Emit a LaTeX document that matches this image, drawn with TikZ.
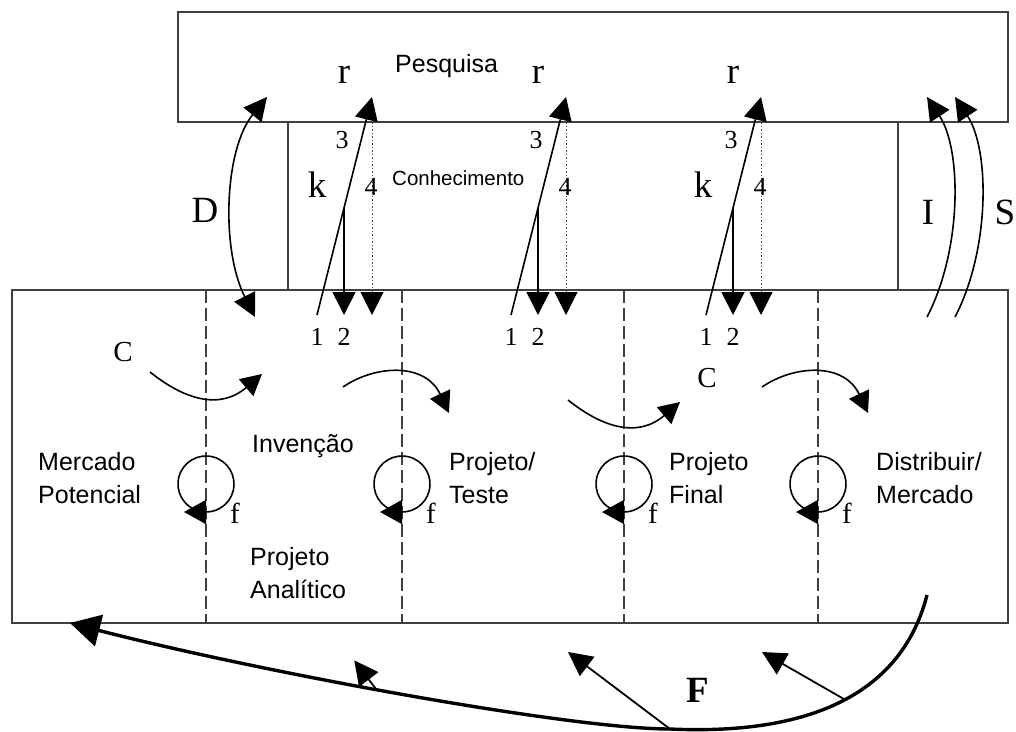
\documentclass[tikz,border=0pt]{standalone}
\usepackage{fontspec}
\setmainfont{Liberation Serif}
\setsansfont{Liberation Sans}
\usetikzlibrary{arrows.meta}
\tikzset{
  caixa/.style={draw=black!75, line width=1.5pt},
  divisa/.style={draw=black!75, line width=1.5pt, dash pattern=on 13pt off 5pt},
  fluxo/.style={-{Triangle[length=23pt,width=23pt]}, line width=1.6pt},
  fluxodup/.style={{Triangle[length=23pt,width=23pt]}-{Triangle[length=23pt,width=23pt]}, line width=1.6pt},
  laco/.style={-{Triangle[length=22pt,width=24pt]}, line width=1.6pt},
  curva/.style={-{Triangle[length=21pt,width=22pt]}, line width=1.6pt},
  retorno/.style={-{Triangle[length=30pt,width=32pt]}, line width=3.4pt},
  ramo/.style={-{Triangle[length=24pt,width=24pt]}, line width=1.8pt},
  pontos/.style={draw=black!70, line width=1pt, dash pattern=on 1.5pt off 2pt,
                 -{Triangle[length=23pt,width=23pt,color=black]}},
  rotulo/.style={font=\sffamily\fontsize{25}{33}\selectfont, align=left, anchor=base west, inner sep=0pt},
  letra/.style={font=\fontsize{37}{37}\selectfont, inner sep=0pt},
  letrap/.style={font=\fontsize{29}{29}\selectfont, inner sep=0pt},
  digito/.style={font=\fontsize{26}{26}\selectfont, inner sep=0pt},
}
\newcommand{\kgrupo}[2]{%
  \coordinate (pe#2) at (#1,315);
  \coordinate (pr#2) at (#1+55,97);
  \coordinate (pk#2) at (#1+27,208);
  \coordinate (pb#2) at (#1+27,315);
  \coordinate (pt#2) at (#1+55,122);
  \coordinate (pd#2) at (#1+55,315);
  \draw[fluxo] (pe#2) -- (pr#2);
  \draw[fluxo] (pk#2) -- (pb#2);
  \draw[pontos] (pt#2) -- (pd#2);
  \node[letra] (r#2) at (#1+27,75) {r};
  \node[digito] (tres#2) at (#1+25,140) {3};
  \node[digito] (quatro#2) at (#1+54,187) {4};
  \node[digito] (um#2) at (#1,337) {1};
  \node[digito] (dois#2) at (#1+27,337) {2};}
\newcommand{\GA}{317}
\newcommand{\GB}{511}
\newcommand{\GC}{706}

\begin{document}
\begin{tikzpicture}[x=1pt, y=-1pt]
  \useasboundingbox (0,0) rectangle (1016,731);

  \draw[caixa] (178,12) rectangle (1008,122);
  \draw[caixa] (288,122) -- (288,290);
  \draw[caixa] (898,122) -- (898,290);
  \draw[caixa] (12,290) rectangle (1008,623);
  \foreach \x in {206,402,624,818}
    \draw[divisa] (\x,290) -- (\x,623);

  \node[rotulo] (pesq) at (395,72) {Pesquisa};
  \node[font=\sffamily\fontsize{20.5}{20.5}\selectfont, anchor=base west, inner sep=0pt] (conh) at (392,185) {Conhecimento};

  \kgrupo{\GA}{a}
  \kgrupo{\GB}{b}
  \kgrupo{\GC}{c}
  \node[letra] (ka) at (317,185) {k};
  \node[letra] (kc) at (703,185) {k};

  \coordinate (d1) at (255,317);
  \coordinate (d2) at (267,97);
  \draw[fluxodup] (d1) .. controls (221,250) and (224,150) .. (d2);
  \node[letra] (dd) at (205,210) {D};

  \coordinate (i1) at (927,317);
  \coordinate (i2) at (927,97);
  \draw[fluxo] (i1) .. controls (962,250) and (962,150) .. (i2);
  \node[letra] (ii) at (928,212) {I};
  \coordinate (s1) at (955,317);
  \coordinate (s2) at (955,97);
  \draw[fluxo] (s1) .. controls (990,250) and (990,150) .. (s2);
  \node[letra] (ss) at (1005,212) {S};

  \coordinate (ca1) at (150,372);
  \coordinate (ca2) at (262,374);
  \draw[curva] (ca1) .. controls (185,400) and (220,410) .. (ca2);
  \coordinate (cb1) at (343,387);
  \coordinate (cb2) at (449,413);
  \draw[curva] (cb1) .. controls (375,365) and (425,362) .. (cb2);
  \coordinate (cc1) at (568,400);
  \coordinate (cc2) at (680,402);
  \draw[curva] (cc1) .. controls (603,428) and (638,438) .. (cc2);
  \coordinate (cd1) at (762,387);
  \coordinate (cd2) at (868,413);
  \draw[curva] (cd1) .. controls (794,365) and (844,362) .. (cd2);
  \node[letrap] (ce) at (123,352) {C};
  \node[letrap] (cf) at (707,378) {C};

  \foreach \x in {206,402,624,818} {
    \draw[laco] (\x,484) ++(105:28) arc[start angle=105, end angle=450, radius=28] -- ++(-22,0);
    \node[letrap] at (\x+29,513) {f};
  }

  \node[rotulo] (merc) at (38,503) {Mercado\\Potencial};
  \node[rotulo] (inv) at (252,452) {Invenção};
  \node[rotulo] (anal) at (250,598) {Projeto\\Analítico};
  \node[rotulo] (teste) at (449,503) {Projeto/\\Teste};
  \node[rotulo] (final) at (669,503) {Projeto\\Final};
  \node[rotulo] (dist) at (876,503) {Distribuir/\\Mercado};

  \coordinate (f0) at (927,595);
  \coordinate (f1) at (670,729);
  \coordinate (f2) at (70,623);
  \draw[retorno] (f0) .. controls (900,700) and (800,735) .. coordinate[pos=0.47] (fn) (f1)
                      .. controls (570,729) and (260,672) .. coordinate[pos=0.54] (fm) (f2);
  \draw[ramo] (fm) -- ++(-22,-29);
  \draw[ramo] (f1) -- (568,652);
  \draw[ramo] (fn) -- (762,652);
  \node[letra, font=\fontsize{37}{37}\selectfont\bfseries] (ff) at (698,690) {F};

\end{tikzpicture}
\end{document}
